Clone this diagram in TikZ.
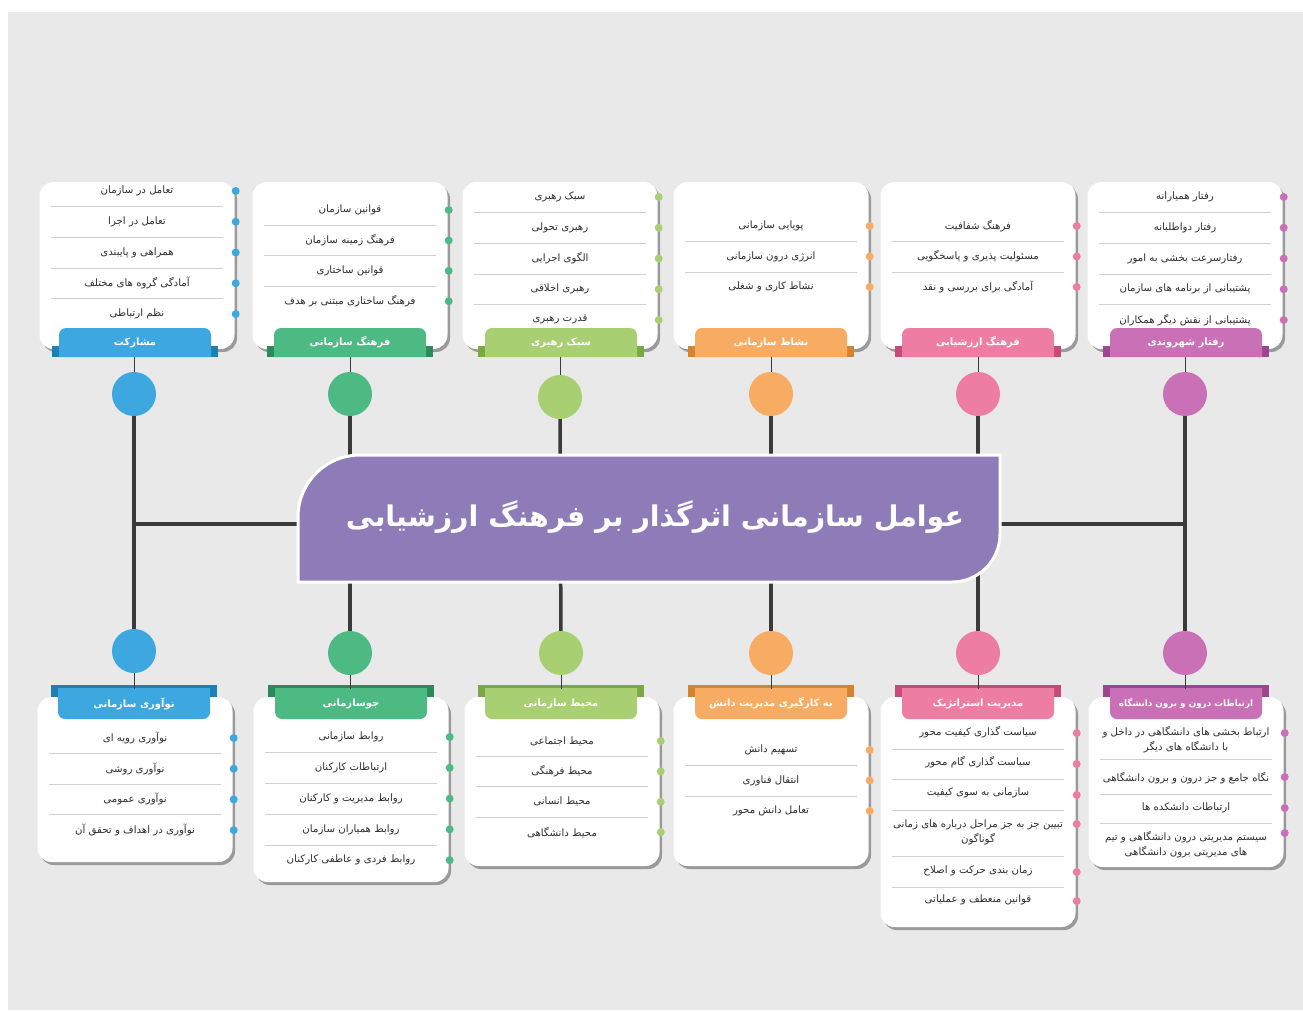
\documentclass[tikz,border=0pt]{standalone}
\usepackage{fontspec}
\usepackage{tikz}
\usetikzlibrary{shadows}
\newfontfamily\arabicfont[Script=Arabic]{DejaVu Sans}
\TeXXeTstate=1
\newcommand{\fa}[1]{{\arabicfont\beginR #1\endR}}
\definecolor{hgrund}{HTML}{E9E9E9}
\definecolor{linie}{HTML}{3A3A3A}
\definecolor{textg}{HTML}{2E2E2E}
\definecolor{trenn}{HTML}{D0D0D0}
\definecolor{titel}{HTML}{8E7CB8}
\definecolor{blau}{HTML}{3DA8DF}
\definecolor{blaud}{HTML}{1F7FB3}
\definecolor{gruen}{HTML}{4DBA84}
\definecolor{gruend}{HTML}{2C8A5A}
\definecolor{hgruen}{HTML}{A8D072}
\definecolor{hgruend}{HTML}{7AA844}
\definecolor{orang}{HTML}{F8AC63}
\definecolor{orangd}{HTML}{D5832F}
\definecolor{rosa}{HTML}{EE7DA3}
\definecolor{rosad}{HTML}{C84A78}
\definecolor{lila}{HTML}{C970B6}
\definecolor{lilad}{HTML}{9E4590}
\tikzset{
  stamm/.style={linie,line width=3.5pt},
  stiel/.style={linie,line width=0.8pt},
  knoten/.style={circle,minimum size=44pt,inner sep=0pt},
  karte/.style={fill=white,rounded corners=14pt,minimum width=195pt,inner sep=0pt,
    drop shadow={shadow xshift=2.5pt,shadow yshift=-3pt,fill=black!60,opacity=.6}},
  eintrag/.style={text=textg,font=\fontsize{10.2}{15}\selectfont,align=center,inner sep=1pt},
  trennl/.style={trenn,line width=0.6pt},
  punkt/.style={circle,minimum size=8pt,inner sep=0pt,xshift=1pt},
  kopf/.style={text=white,font=\bfseries\fontsize{10}{12}\selectfont,minimum width=151pt,minimum height=28pt,inner sep=0pt},
  banner/.style={fill=titel,draw=white,line width=3pt},
}
\newcommand{\reiteroben}[5]{%
  \fill[#4] (#2-83,346) rectangle (#2+83,357);
  \fill[#3] (#2,357) -- (#2-76,357) [rounded corners=7pt] -- (#2-76,328) -- (#2+76,328) [sharp corners] -- (#2+76,357) -- cycle;
  \node[kopf] (#1) at (#2,342.5) {{\arabicfont #5}};
}
\newcommand{\reiterunten}[5]{%
  \fill[#4] (#2-83,685) rectangle (#2+83,697);
  \fill[#3] (#2,688) -- (#2+76,688) [rounded corners=7pt] -- (#2+76,719) -- (#2-76,719) [sharp corners] -- (#2-76,688) -- cycle;
  \node[kopf] (#1) at (#2,703.5) {{\arabicfont #5}};
}

\begin{document}
\begin{tikzpicture}[x=1pt,y=-1pt]
  \useasboundingbox (0,0) rectangle (1303,1010);
  \fill[white] (0,0) rectangle (1303,1010);
  \fill[hgrund] (8,12) rectangle (1303,1010);
  % spine
  \coordinate (o1) at (134,394);  \coordinate (u1) at (134,651);
  \coordinate (o2) at (350,394);  \coordinate (u2) at (350,653);
  \coordinate (o3) at (560,397);  \coordinate (u3) at (561,653);
  \coordinate (o4) at (771,394);  \coordinate (u4) at (771,653);
  \coordinate (o5) at (978,394);  \coordinate (u5) at (978,653);
  \coordinate (o6) at (1185,394); \coordinate (u6) at (1185,653);
  \coordinate (ml) at (134,524);  \coordinate (mr) at (1185,524);
  \draw[stamm] (ml) -- (mr);
  \foreach \i in {1,...,6} \draw[stamm] (o\i) -- (u\i);
  \path[banner] (650,582) -- (298,582) [rounded corners=62pt] -- (298,455) [sharp corners] -- (1000,455) [rounded corners=48pt] -- (1000,582) [sharp corners] -- cycle;
  \node[text=white,font=\bfseries\fontsize{28.5}{32}\selectfont] (titel) at (655,517) {\fa{عوامل سازمانی اثرگذار بر فرهنگ ارزشیابی}};
  \node[knoten,fill=blau] (ko1) at (o1) {};   \node[knoten,fill=blau] (ku1) at (u1) {};
  \node[knoten,fill=gruen] (ko2) at (o2) {};  \node[knoten,fill=gruen] (ku2) at (u2) {};
  \node[knoten,fill=hgruen] (ko3) at (o3) {}; \node[knoten,fill=hgruen] (ku3) at (u3) {};
  \node[knoten,fill=orang] (ko4) at (o4) {};  \node[knoten,fill=orang] (ku4) at (u4) {};
  \node[knoten,fill=rosa] (ko5) at (o5) {};   \node[knoten,fill=rosa] (ku5) at (u5) {};
  \node[knoten,fill=lila] (ko6) at (o6) {};   \node[knoten,fill=lila] (ku6) at (u6) {};
  % top cards
  \node[karte,minimum height=167pt] (k1) at (137,265.5) {};
  \foreach \t [count=\i] in {تعامل در سازمان,تعامل در اجرا,همراهی و پایبندی,آمادگی گروه های مختلف,نظم ارتباطی}{
    \node[eintrag] (k1e\i) at (137,{160.25+30.75*\i}) {\fa{\t}};
    \node[punkt,fill=blau] (k1p\i) at (k1.east |- k1e\i) {};
  }
  \foreach \i in {1,...,4} \draw[trennl] (51,{175.6+30.75*\i}) -- (223,{175.6+30.75*\i});
  \reiteroben{r1}{135}{blau}{blaud}{\beginR مشارکت\endR}

  \node[karte,minimum height=167pt] (k2) at (350,265.5) {};
  \foreach \t [count=\i] in {قوانین سازمان,فرهنگ زمینه سازمان,قوانین ساختاری,فرهنگ ساختاری مبتنی بر هدف}{
    \node[eintrag] (k2e\i) at (350,{179.6+30.4*\i}) {\fa{\t}};
    \node[punkt,fill=gruen] (k2p\i) at (k2.east |- k2e\i) {};
  }
  \foreach \i in {1,...,3} \draw[trennl] (264,{194.8+30.4*\i}) -- (436,{194.8+30.4*\i});
  \reiteroben{r2}{350}{gruen}{gruend}{\beginR فرهنگ سازمانی\endR}

  \node[karte,minimum height=167pt] (k3) at (560,265.5) {};
  \foreach \t [count=\i] in {سبک رهبری,رهبری تحولی,الگوی اجرایی,رهبری اخلاقی,قدرت رهبری}{
    \node[eintrag] (k3e\i) at (560,{166.25+30.75*\i}) {\fa{\t}};
    \node[punkt,fill=hgruen] (k3p\i) at (k3.east |- k3e\i) {};
  }
  \foreach \i in {1,...,4} \draw[trennl] (474,{181.6+30.75*\i}) -- (646,{181.6+30.75*\i});
  \reiteroben{r3}{561}{hgruen}{hgruend}{\beginR سبک رهبری\endR}

  \node[karte,minimum height=167pt] (k4) at (771,265.5) {};
  \foreach \t [count=\i] in {پویایی سازمانی,انرژی درون سازمانی,نشاط کاری و شغلی}{
    \node[eintrag] (k4e\i) at (771,{195.5+30.5*\i}) {\fa{\t}};
    \node[punkt,fill=orang] (k4p\i) at (k4.east |- k4e\i) {};
  }
  \foreach \i in {1,...,2} \draw[trennl] (685,{210.8+30.5*\i}) -- (857,{210.8+30.5*\i});
  \reiteroben{r4}{771}{orang}{orangd}{\beginR نشاط سازمانی\endR}

  \node[karte,minimum height=167pt] (k5) at (978,265.5) {};
  \foreach \t [count=\i] in {فرهنگ شفافیت,مسئولیت پذیری و پاسخگویی,آمادگی برای بررسی و نقد}{
    \node[eintrag] (k5e\i) at (978,{195.5+30.5*\i}) {\fa{\t}};
    \node[punkt,fill=rosa] (k5p\i) at (k5.east |- k5e\i) {};
  }
  \foreach \i in {1,...,2} \draw[trennl] (892,{210.8+30.5*\i}) -- (1064,{210.8+30.5*\i});
  \reiteroben{r5}{978}{rosa}{rosad}{\beginR فرهنگ ارزشیابی\endR}

  \node[karte,minimum height=167pt] (k6) at (1185,265.5) {};
  \foreach \t [count=\i] in {رفتار همیارانه,رفتار دواطلبانه,رفتارسرعت بخشی به امور,پشتیبانی از برنامه های سازمان,پشتیبانی از نقش دیگر همکاران}{
    \node[eintrag] (k6e\i) at (1185,{166.25+30.75*\i}) {\fa{\t}};
    \node[punkt,fill=lila] (k6p\i) at (k6.east |- k6e\i) {};
  }
  \foreach \i in {1,...,4} \draw[trennl] (1099,{181.6+30.75*\i}) -- (1271,{181.6+30.75*\i});
  \reiteroben{r6}{1186}{lila}{lilad}{\beginR رفتار شهروندی\endR}
  % bottom cards
  \node[karte,minimum height=165pt] (m1) at (135,779.5) {};
  \foreach \t [count=\i] in {نوآوری رویه ای,نوآوری روشی,نوآوری عمومی,نوآوری در اهداف و تحقق آن}{
    \node[eintrag] (m1e\i) at (135,{707.3+30.7*\i}) {\fa{\t}};
    \node[punkt,fill=blau] (m1p\i) at (m1.east |- m1e\i) {};
  }
  \foreach \i in {1,...,3} \draw[trennl] (49,{722.6+30.7*\i}) -- (221,{722.6+30.7*\i});
  \reiterunten{s1}{134}{blau}{blaud}{\beginR نوآوری سازمانی\endR}

  \node[karte,minimum height=185pt] (m2) at (351,789.5) {};
  \foreach \t [count=\i] in {روابط سازمانی,ارتباطات کارکنان,روابط مدیریت و کارکنان,روابط همیاران سازمان,روابط فردی و عاطفی کارکنان}{
    \node[eintrag] (m2e\i) at (351,{706.2+30.8*\i}) {\fa{\t}};
    \node[punkt,fill=gruen] (m2p\i) at (m2.east |- m2e\i) {};
  }
  \foreach \i in {1,...,4} \draw[trennl] (265,{721.6+30.8*\i}) -- (437,{721.6+30.8*\i});
  \reiterunten{s2}{351}{gruen}{gruend}{\beginR جوسازمانی\endR}

  \node[karte,minimum height=169pt] (m3) at (562,781.5) {};
  \foreach \t [count=\i] in {محیط اجتماعی,محیط فرهنگی,محیط انسانی,محیط دانشگاهی}{
    \node[eintrag] (m3e\i) at (562,{710.6+30.4*\i}) {\fa{\t}};
    \node[punkt,fill=hgruen] (m3p\i) at (m3.east |- m3e\i) {};
  }
  \foreach \i in {1,...,3} \draw[trennl] (476,{725.8+30.4*\i}) -- (648,{725.8+30.4*\i});
  \reiterunten{s3}{561}{hgruen}{hgruend}{\beginR محیط سازمانی\endR}

  \node[karte,minimum height=169pt] (m4) at (771,781.5) {};
  \foreach \t [count=\i] in {تسهیم دانش,انتقال فناوری,تعامل دانش محور}{
    \node[eintrag] (m4e\i) at (771,{719.5+30.5*\i}) {\fa{\t}};
    \node[punkt,fill=orang] (m4p\i) at (m4.east |- m4e\i) {};
  }
  \foreach \i in {1,...,2} \draw[trennl] (685,{734.8+30.5*\i}) -- (857,{734.8+30.5*\i});
  \reiterunten{s4}{771}{orang}{orangd}{\beginR به کارگیری مدیریت دانش\endR}

  \node[karte,minimum height=230pt] (m5) at (978,812) {};
  \node[eintrag] (m5e1) at (978,732) {\fa{سیاست گذاری کیفیت محور}};
  \node[eintrag] (m5e2) at (978,762) {\fa{سیاست گذاری گام محور}};
  \node[eintrag] (m5e3) at (978,793) {\fa{سازمانی به سوی کیفیت}};
  \node[eintrag] (m5e4) at (978,832) {\fa{تبیین جز به جز مراحل درباره های زمانی}\\\fa{گوناگون}};
  \node[eintrag] (m5e5) at (978,871) {\fa{زمان بندی حرکت و اصلاح}};
  \node[eintrag] (m5e6) at (978,900) {\fa{قوانین منعطف و عملیاتی}};
  \foreach \i/\y in {1/733,2/764,3/795,4/824,5/872,6/901} \node[punkt,fill=rosa] (m5p\i) at (m5.east |- 0,\y) {};
  \foreach \y in {749,779,810,856,887} \draw[trennl] (892,\y) -- (1064,\y);
  \reiterunten{s5}{978}{rosa}{rosad}{\beginR مدیریت استراتژیک\endR}

  \node[karte,minimum height=170pt] (m6) at (1186,782) {};
  \node[eintrag] (m6e1) at (1186,740) {\fa{ارتباط بخشی های دانشگاهی در داخل و}\\\fa{با دانشگاه های دیگر}};
  \node[eintrag] (m6e2) at (1186,778) {\fa{نگاه جامع و جز درون و برون دانشگاهی}};
  \node[eintrag] (m6e3) at (1186,808) {\fa{ارتباطات دانشکده ها}};
  \node[eintrag] (m6e4) at (1186,845) {\fa{سیستم مدیریتی درون دانشگاهی و تیم}\\\fa{های مدیریتی برون دانشگاهی}};
  \foreach \i/\y in {1/733,2/777,3/808,4/833} \node[punkt,fill=lila] (m6p\i) at (m6.east |- 0,\y) {};
  \foreach \y in {759,794,823} \draw[trennl] (1100,\y) -- (1272,\y);
  \reiterunten{s6}{1186}{lila}{lilad}{\fontsize{8.8}{11}\selectfont\beginR ارتباطات درون و برون دانشگاه\endR}
  % stems
  \foreach \i in {1,...,6} {
    \draw[stiel] (ko\i) -- (ko\i |- r\i.south);
    \draw[stiel] (ku\i) -- (ku\i |- s\i.north);
  }
\end{tikzpicture}
\end{document}
